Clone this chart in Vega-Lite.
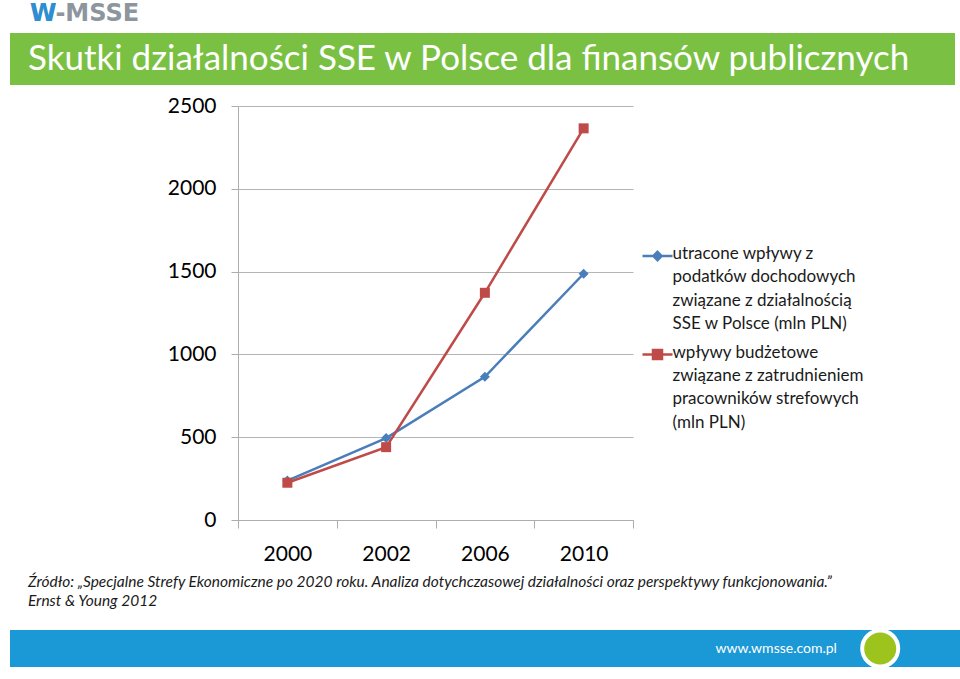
{
  "$schema": "https://vega.github.io/schema/vega-lite/v6.json",
  "background": "white",
  "padding": {"left": 10, "top": 2, "right": 0, "bottom": 0},
  "config": {"view": {"stroke": null}, "font": "Lato"},
  "title": {
    "text": "W-MSSE",
    "subtitle": "W",
    "anchor": "start",
    "dx": 20,
    "offset": 7,
    "font": "DejaVu Sans",
    "fontSize": 24,
    "fontWeight": "bold",
    "color": "#8d959d",
    "subtitleFont": "DejaVu Sans",
    "subtitleFontSize": 24,
    "subtitleFontWeight": "bold",
    "subtitleColor": "#2b8fd5",
    "subtitlePadding": -24
  },
  "spacing": 10,
  "vconcat": [
    {
      "width": 945,
      "height": 52,
      "view": {"fill": "#7ac143", "stroke": null},
      "data": {"values": [{"heading": "Skutki działalności SSE w Polsce dla finansów publicznych"}]},
      "mark": {"type": "text", "align": "left", "baseline": "middle", "color": "white", "font": "Lato", "fontSize": 35},
      "encoding": {
        "text": {"field": "heading"},
        "x": {"datum": 0.019, "type": "quantitative", "scale": {"domain": [0, 1]}, "axis": null}
      }
    },
    {
      "spacing": 0,
      "hconcat": [
        {
          "width": 147.7,
          "height": 414,
          "data": {"values": []},
          "mark": "point"
        },
        {
          "width": 395,
          "height": 414,
          "data": {
            "values": [
              {"year": "2000", "series": "utracone wpływy z podatków dochodowych związane z działalnością SSE w Polsce (mln PLN)", "value": 238},
              {"year": "2002", "series": "utracone wpływy z podatków dochodowych związane z działalnością SSE w Polsce (mln PLN)", "value": 495},
              {"year": "2006", "series": "utracone wpływy z podatków dochodowych związane z działalnością SSE w Polsce (mln PLN)", "value": 865},
              {"year": "2010", "series": "utracone wpływy z podatków dochodowych związane z działalnością SSE w Polsce (mln PLN)", "value": 1487},
              {"year": "2000", "series": "wpływy budżetowe związane z zatrudnieniem pracowników strefowych (mln PLN)", "value": 225},
              {"year": "2002", "series": "wpływy budżetowe związane z zatrudnieniem pracowników strefowych (mln PLN)", "value": 440},
              {"year": "2006", "series": "wpływy budżetowe związane z zatrudnieniem pracowników strefowych (mln PLN)", "value": 1372},
              {"year": "2010", "series": "wpływy budżetowe związane z zatrudnieniem pracowników strefowych (mln PLN)", "value": 2365}
            ]
          },
          "encoding": {
            "x": {
              "field": "year",
              "type": "ordinal",
              "scale": {"type": "band", "paddingInner": 0, "paddingOuter": 0},
              "axis": {
                "title": null,
                "labelAngle": 0,
                "tickBand": "extent",
                "tickSize": 8,
                "tickColor": "#adadad",
                "domainColor": "#adadad",
                "labelFont": "Lato",
                "labelFontSize": 21,
                "labelColor": "#000000",
                "labelPadding": 15,
                "grid": false
              }
            },
            "y": {
              "field": "value",
              "type": "quantitative",
              "scale": {"domain": [0, 2500], "nice": false},
              "axis": {
                "title": null,
                "values": [0, 500, 1000, 1500, 2000, 2500],
                "format": "d",
                "grid": true,
                "gridColor": "#b5b5b5",
                "tickSize": 7,
                "tickColor": "#adadad",
                "domainColor": "#adadad",
                "labelFont": "Lato",
                "labelFontSize": 21,
                "labelColor": "#000000",
                "labelPadding": 15,
                "minExtent": 80
              }
            },
            "color": {
              "field": "series",
              "type": "nominal",
              "scale": {
                "domain": [
                  "utracone wpływy z podatków dochodowych związane z działalnością SSE w Polsce (mln PLN)",
                  "wpływy budżetowe związane z zatrudnieniem pracowników strefowych (mln PLN)"
                ],
                "range": ["#4a7ebb", "#be4b48"]
              },
              "legend": {
                "orient": "none",
                "legendX": 638.5,
                "legendY": 214,
                "title": null,
                "padding": 0,
                "labelFont": "Lato",
                "labelFontSize": 17,
                "labelColor": "#1a1a1a",
                "labelLimit": 400,
                "labelOffset": 6,
                "labelBaseline": "top",
                "rowPadding": 10.5,
                "symbolSize": 225,
                "symbolStrokeWidth": 2.5,
                "labelExpr": "indexof(datum.value, 'utracone') == 0 ? ['utracone wpływy z', 'podatków dochodowych', 'związane z działalnością', 'SSE w Polsce (mln PLN)'] : ['wpływy budżetowe', 'związane z zatrudnieniem', 'pracowników strefowych', '(mln PLN)']",
                "encode": {
                  "symbols": {
                    "update": {
                      "shape": {"signal": "indexof(datum.value, 'utracone') == 0 ? 'M-2,0H2M0,-0.55L0.55,0L0,0.55L-0.55,0Z' : 'M-2,0H2M-0.6,-0.6H0.6V0.6H-0.6Z'"},
                      "fill": {"scale": "color", "field": "value"},
                      "stroke": {"scale": "color", "field": "value"},
                      "strokeWidth": {"value": 2.5},
                      "opacity": {"value": 1}
                    }
                  },
                  "labels": {
                    "update": {
                      "dy": {"value": -10},
                      "lineHeight": {"value": 23.4}
                    }
                  }
                }
              }
            }
          },
          "layer": [
            {"mark": {"type": "line", "strokeWidth": 2.5}},
            {
              "mark": {"type": "point", "filled": true, "opacity": 1, "size": 100},
              "encoding": {
                "shape": {
                  "field": "series",
                  "type": "nominal",
                  "scale": {"range": ["diamond", "square"]},
                  "legend": null
                }
              }
            }
          ]
        }
      ]
    },
    {
      "width": 950,
      "height": 37,
      "view": {"fill": "#1b98d6", "stroke": null},
      "title": {
        "text": [
          "Źródło: „Specjalne Strefy Ekonomiczne po 2020 roku. Analiza dotychczasowej działalności oraz perspektywy funkcjonowania.”",
          "Ernst & Young 2012"
        ],
        "anchor": "start",
        "dx": 18,
        "offset": 13,
        "font": "Lato",
        "fontSize": 15.5,
        "fontStyle": "italic",
        "fontWeight": "normal",
        "color": "#1a1a1a",
        "lineHeight": 19
      },
      "data": {"values": [{"site": "www.wmsse.com.pl"}]},
      "layer": [
        {
          "mark": {"type": "text", "align": "center", "baseline": "middle", "color": "white", "font": "Lato", "fontSize": 14},
          "encoding": {
            "text": {"field": "site"},
            "x": {"datum": 0.8065, "type": "quantitative", "scale": {"domain": [0, 1]}, "axis": null}
          }
        },
        {
          "mark": {"type": "point", "shape": "circle", "filled": true, "color": "#9dc31d", "size": 1300, "stroke": "white", "strokeWidth": 4, "opacity": 1},
          "encoding": {
            "x": {"datum": 0.916, "type": "quantitative", "scale": {"domain": [0, 1]}, "axis": null}
          }
        }
      ]
    }
  ]
}
